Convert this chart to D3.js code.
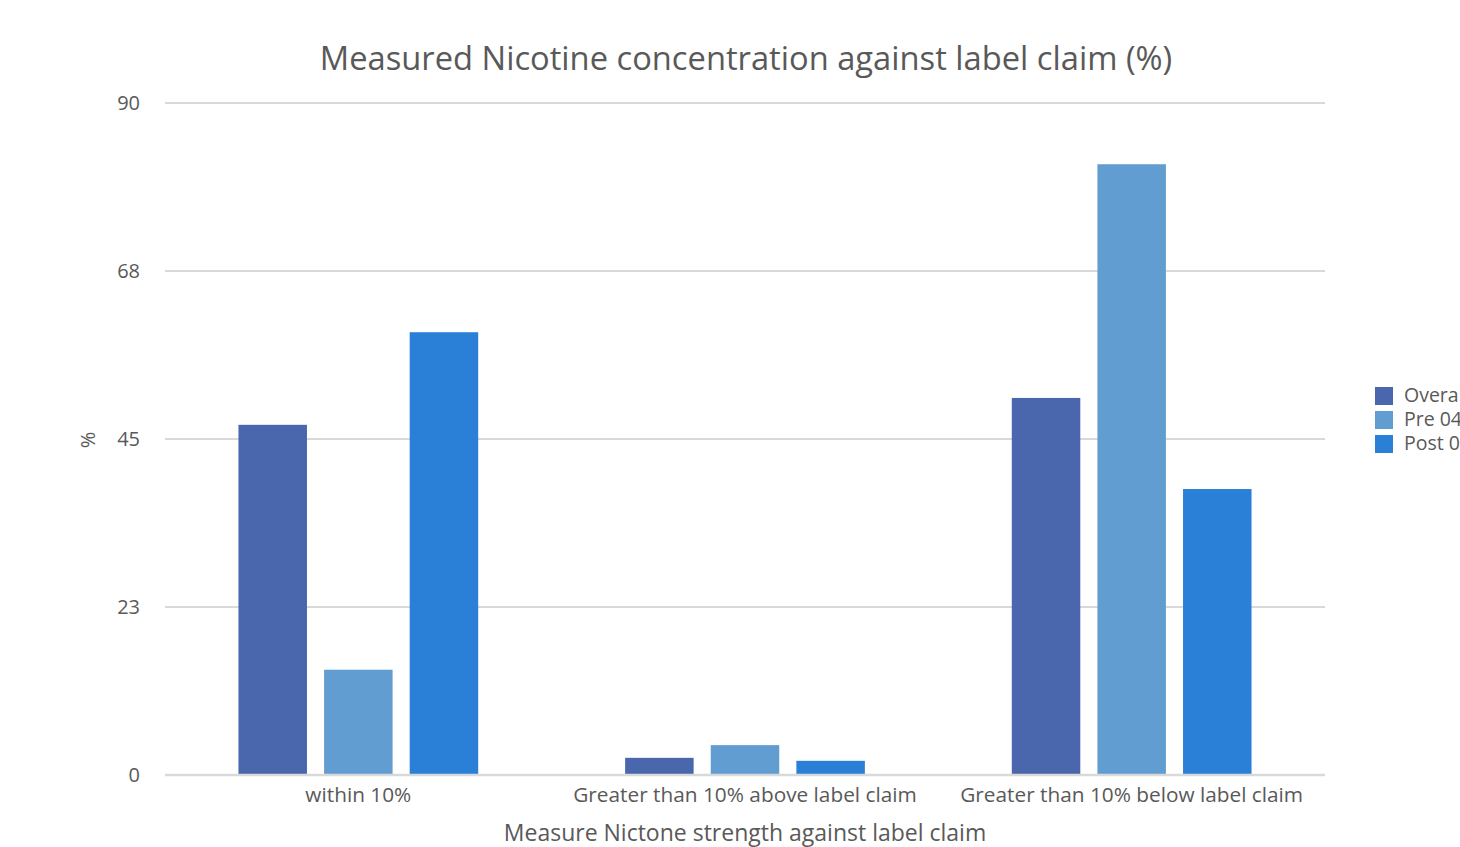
<!DOCTYPE html>
<html>
<head>
<meta charset="utf-8">
<script src="https://cdn.jsdelivr.net/npm/d3@7"></script>
<style>
  html, body { margin: 0; padding: 0; background: #fff; overflow: hidden; }
  svg { display: block; font-family: "Open Sans", "Noto Sans", sans-serif; }
</style>
</head>
<body>
<svg id="chart" width="1460" height="847"></svg>
<script>
// Categories along the x axis
const categories = ["within 10%", "Greater than 10% above label claim", "Greater than 10% below label claim"];
// Series names (legend)
const seriesNames = ["Overall", "Pre 04", "Post 04"];
// Values per series, in category order (%)
const overall = [46.9, 2.3, 50.5];
const pre04 = [14.1, 4.0, 81.8];
const post04 = [59.3, 1.9, 38.3];
// Y axis tick values
const yTicks = [0, 22.5, 45, 67.5, 90];
const yTickLabels = ["0", "23", "45", "68", "90"];

const seriesValues = [overall, pre04, post04];
const colors = ["#4a66ac", "#629dd1", "#2a7fd7"];

const svg = d3.select("#chart");
const margin = { left: 165, right: 135, top: 103, bottom: 72 };
const W = 1460, H = 847;

const y = d3.scaleLinear().domain([0, 90]).range([H - margin.bottom, margin.top]);
const x0 = d3.scaleBand().domain(categories).range([margin.left, W - margin.right])
  .paddingInner(0.38).paddingOuter(0.19);
const x1 = d3.scaleBand().domain(seriesNames).range([0, x0.bandwidth()])
  .paddingInner(0.2).paddingOuter(0);

const textColor = "#595959";

// Gridlines
svg.append("g").selectAll("line").data(yTicks).join("line")
  .attr("x1", margin.left).attr("x2", W - margin.right)
  .attr("y1", d => y(d)).attr("y2", d => y(d))
  .attr("stroke", "#d9d9d9").attr("stroke-width", 2);

// Y tick labels
svg.append("g").selectAll("text").data(yTicks).join("text")
  .attr("x", 140).attr("y", d => y(d))
  .attr("dy", "0.35em").attr("text-anchor", "end")
  .attr("font-size", 20).attr("fill", textColor)
  .text((d, i) => yTickLabels[i]);

// Bars
const groups = svg.append("g").selectAll("g").data(categories).join("g")
  .attr("transform", d => `translate(${x0(d)},0)`);
groups.selectAll("rect")
  .data((c, ci) => seriesNames.map((s, si) => ({ s, si, v: seriesValues[si][ci] })))
  .join("rect")
  .attr("x", d => x1(d.s))
  .attr("width", x1.bandwidth())
  .attr("y", d => y(d.v))
  .attr("height", d => y(0) - y(d.v))
  .attr("fill", d => colors[d.si]);

// Baseline
svg.append("line")
  .attr("x1", margin.left).attr("x2", W - margin.right)
  .attr("y1", y(0)).attr("y2", y(0))
  .attr("stroke", "#d9d9d9").attr("stroke-width", 2.5);

// X tick labels
svg.append("g").selectAll("text").data(categories).join("text")
  .attr("x", d => x0(d) + x0.bandwidth() / 2)
  .attr("y", 795).attr("dy", "0.35em")
  .attr("text-anchor", "middle").attr("font-size", 20.8).attr("fill", textColor)
  .text(d => d);

// Axis titles
svg.append("text")
  .attr("x", (margin.left + W - margin.right) / 2).attr("y", 833).attr("dy", "0.35em")
  .attr("text-anchor", "middle").attr("font-size", 23).attr("fill", textColor)
  .text("Measure Nictone strength against label claim");

svg.append("text")
  .attr("transform", `translate(88,440) rotate(-90)`)
  .attr("dy", "0.35em").attr("text-anchor", "middle")
  .attr("font-size", 20).attr("fill", textColor)
  .text("%");

// Title
svg.append("text")
  .attr("x", 746).attr("y", 59).attr("dy", "0.35em")
  .attr("text-anchor", "middle").attr("font-size", 32.7).attr("fill", textColor)
  .text("Measured Nicotine concentration against label claim (%)");

// Legend
const legend = svg.append("g").selectAll("g").data(seriesNames).join("g")
  .attr("transform", (d, i) => `translate(1375,${387 + i * 24})`);
legend.append("rect").attr("width", 18).attr("height", 18).attr("fill", (d, i) => colors[i]);
legend.append("text").attr("x", 29).attr("y", 8).attr("dy", "0.35em")
  .attr("font-size", 19.5).attr("fill", textColor).text(d => d);
</script>
</body>
</html>
